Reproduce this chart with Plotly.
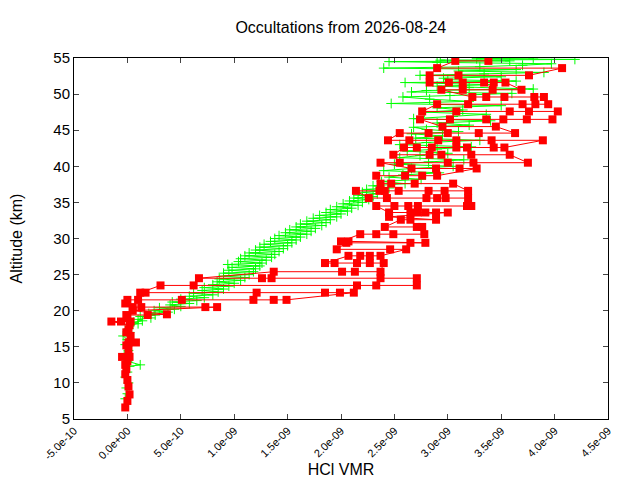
import plotly.graph_objects as go

title = "Occultations from 2026-08-24"

# HCl VMR in units of 1e-9, altitudes in km
green_alt_km = [
    7.8, 8.5, 9.3, 10.0, 10.8, 11.5, 12.3, 12.5, 13.0, 13.8, 14.5, 15.3, 16.0, 16.5, 17.0, 17.5,
    18.0, 18.2, 18.4, 18.6, 18.8, 19.0, 19.2, 19.4, 19.6, 19.8, 20.0, 20.2, 20.4, 20.6, 20.8,
    21.0, 21.2, 21.4, 21.6, 21.8, 22.0, 22.2, 22.4, 22.6, 22.8, 23.0, 23.2, 23.4, 23.6, 23.8,
    24.0, 24.2, 24.4, 24.6, 24.8, 25.0, 25.2, 25.4, 25.6, 25.8, 26.0, 26.2, 26.4, 26.6, 26.8,
    27.0, 27.2, 27.4, 27.6, 27.8, 28.0, 28.2, 28.4, 28.6, 28.8, 29.0, 29.2, 29.4, 29.6, 29.8,
    30.0, 30.2, 30.4, 30.6, 30.8, 31.0, 31.2, 31.4, 31.6, 31.8, 32.0, 32.2, 32.4, 32.6, 32.8,
    33.0, 33.2, 33.4, 33.6, 33.8, 34.0, 34.2, 34.4, 34.6, 34.8, 35.0, 35.2, 35.4, 35.6, 35.8,
    36.0, 36.2, 36.4, 36.6, 36.8, 37.0,
    37.3, 37.6, 37.9, 38.2, 38.5, 38.8, 39.1, 39.4, 39.7, 40.0, 40.3, 40.6, 40.9, 41.2, 41.5,
    41.8, 42.1, 42.4, 42.7, 43.0, 43.3, 43.6, 43.9, 44.2, 44.5, 44.8, 45.1, 45.4, 45.7, 46.0,
    46.3, 46.6, 46.9, 47.2, 47.5, 47.8, 48.1, 48.4, 48.7, 49.0, 49.3, 49.6, 49.8, 50.1, 50.3,
    50.5, 50.7, 50.9, 51.1, 51.3, 51.6, 51.8, 52.0, 52.2, 52.4, 52.6, 52.8, 53.0, 53.2, 53.4,
    53.6, 53.8, 54.0, 54.2, 54.4, 54.5, 54.6, 54.7, 54.8, 54.9, 55.0,
]
green_hcl = [
    -0.02, 0.0, -0.01, 0.01, -0.02, 0.0, 0.02, 0.12, 0.0, -0.03, 0.01, -0.02, 0.0, -0.04, 0.02, 0.01,
    0.02, 0.1, 0.06, 0.14, 0.1, 0.22, 0.12, 0.26, 0.2, 0.38, 0.25, 0.44, 0.3, 0.5, 0.4,
    0.58, 0.42, 0.65, 0.5, 0.72, 0.58, 0.8, 0.62, 0.85, 0.7, 0.9, 0.72, 0.95, 0.8, 1.0,
    0.84, 1.06, 0.86, 1.1, 0.9, 1.14, 0.9, 1.18, 0.95, 1.2, 0.98, 1.24, 0.94, 1.26, 1.04,
    1.3, 1.06, 1.35, 1.1, 1.38, 1.14, 1.42, 1.2, 1.46, 1.24, 1.5, 1.28, 1.54, 1.34, 1.58,
    1.38, 1.62, 1.42, 1.68, 1.48, 1.72, 1.52, 1.76, 1.58, 1.82, 1.62, 1.86, 1.68, 1.9, 1.74,
    1.96, 1.8, 2.0, 1.86, 2.06, 1.9, 2.1, 1.96, 2.16, 2.02, 2.2, 2.08, 2.26, 2.12, 2.3,
    2.16, 2.34, 2.2, 2.4, 2.24, 2.45,
    2.3, 2.6, 2.38, 2.75, 2.45, 2.58, 2.92, 2.4, 2.66, 3.05, 2.5, 2.82, 3.15, 2.55, 2.74,
    3.0, 2.62, 2.9, 3.22, 2.55, 2.8, 3.3, 2.7, 2.95, 2.66, 3.1, 2.8, 2.68, 3.2, 2.9,
    3.4, 2.68, 3.05, 3.36, 2.78, 3.14, 2.9, 3.5, 2.47, 3.2, 2.83, 2.58, 3.02, 3.6, 2.66,
    2.8, 3.8, 3.2, 2.9, 3.4, 2.6, 3.64, 3.0, 2.96, 3.5, 2.74, 3.34, 3.9, 3.1, 3.64,
    2.4, 3.3, 3.7, 3.97, 2.9, 2.45, 3.58, 2.93, 4.19, 3.27, 3.8,
]

red_level_km = [
    6.6, 7.5, 8.4, 9.5, 10.4, 11.2, 11.9, 12.5, 13.0, 13.6, 14.6, 15.2, 15.6, 16.5, 17.0, 17.4,
    18.0, 18.5, 19.0, 19.4, 19.5, 20.0, 20.5, 21.0, 21.5, 22.5, 23.5, 24.5, 25.4, 26.6, 27.6,
    28.5, 29.4, 29.6, 30.6, 31.6, 32.6, 33.0, 33.6, 34.5, 35.6, 36.6, 37.6, 38.7, 39.7, 40.5,
    41.6, 42.6, 43.6, 44.6, 45.5, 46.5, 47.6, 48.6, 49.6, 50.6, 51.6, 52.6, 53.6, 54.6,
]
red_hcl = [
    [-0.02], [0.0], [0.02], [0.01], [0.0], [-0.02], [-0.01], [-0.02], [0.0], [-0.05, 0.02],
    [0.01], [-0.01], [0.08, 0.01], [0.03], [-0.01], [0.01], [0.02], [-0.15, -0.06, 0.03],
    [0.0], [-0.01, 0.19], [0.37], [0.05], [0.84, 0.73, 0.13, 0.05], [-0.02],
    [0.0, 0.1, 0.51, 1.18, 1.37, 1.49],
    [2.12, 1.99, 1.85, 1.21, 0.17, 0.12],
    [0.31, 0.62, 2.15, 2.33, 2.71],
    [2.71, 2.37, 1.35, 1.26, 0.67],
    [1.37, 2.01, 2.13, 2.37],
    [2.4, 2.27, 2.15, 1.94, 1.85],
    [2.07, 2.18, 2.27, 2.37],
    [2.61, 2.46, 1.96],
    [2.05, 2.65, 2.79],
    [2.07, 2.0],
    [2.18, 2.33, 2.49, 2.78],
    [2.76, 2.71, 2.41],
    [2.56, 2.65, 2.89],
    [2.45],
    [3.0, 2.89, 2.79, 2.72, 2.65, 2.45],
    [2.33, 2.5, 2.63, 2.72, 3.18, 3.22],
    [3.19, 2.98, 2.9, 2.8, 2.43, 2.26],
    [2.14, 2.36, 2.41, 2.54, 2.82, 2.97, 3.19],
    [3.05, 2.69, 2.47, 2.37],
    [2.33, 2.6, 2.76, 2.9],
    [3.27, 3.11, 2.89, 2.66],
    [2.37, 2.55, 3.0, 3.24, 3.75],
    [3.58, 3.22, 2.94, 2.83, 2.49],
    [2.59, 2.71, 2.85, 3.08, 3.18, 3.43, 3.53],
    [3.89, 3.41, 3.08, 2.91, 2.64, 2.44],
    [2.55, 2.82, 3.0, 3.29, 3.63],
    [3.45, 2.95],
    [2.74, 3.02, 3.36, 3.52, 3.74, 3.98],
    [4.03, 3.76, 3.58, 3.08, 2.76],
    [2.9, 3.19, 3.7, 3.82, 3.94],
    [3.9, 3.81, 3.53, 3.36, 3.23],
    [2.94, 3.14, 3.42, 3.69],
    [3.54, 3.43, 3.34, 3.14, 3.01, 2.83],
    [2.83, 3.1, 3.76],
    [4.07, 2.9],
    [3.07, 3.38],
]

x_tick_vals = [-5e-10, 0.0, 5e-10, 1e-9, 1.5e-9, 2e-9, 2.5e-9, 3e-9, 3.5e-9, 4e-9, 4.5e-9]
x_tick_labels = ["-5.0e-10", "0.0e+00", "5.0e-10", "1.0e-09", "1.5e-09", "2.0e-09",
                 "2.5e-09", "3.0e-09", "3.5e-09", "4.0e-09", "4.5e-09"]

red_x, red_y = [], []
for alt, vals in zip(red_level_km, red_hcl):
    for v in vals:
        red_x.append(v * 1e-9)
        red_y.append(alt)

fig = go.Figure()
fig.add_trace(go.Scatter(
    x=[v * 1e-9 for v in green_hcl], y=green_alt_km,
    mode="lines+markers",
    line=dict(color="#00ff00", width=1),
    marker=dict(symbol="cross-thin", size=7, line=dict(color="#00ff00", width=1)),
))
fig.add_trace(go.Scatter(
    x=red_x, y=red_y,
    mode="lines+markers",
    line=dict(color="#ff0000", width=1),
    marker=dict(symbol="square", size=8, color="#ff0000"),
))

# the page adds an 8px body margin, so margins are shifted to compensate
fig.update_layout(
    width=640, height=480,
    margin=dict(l=66, r=40, t=50, b=69),
    paper_bgcolor="white", plot_bgcolor="white",
    showlegend=False,
    font=dict(family="Liberation Sans", size=15, color="black"),
    title=dict(text=title, x=0.52, xanchor="center", y=0.96, yanchor="middle",
               font=dict(size=16)),
)
fig.update_xaxes(
    range=[-5e-10, 4.5e-9], tickvals=x_tick_vals, ticktext=x_tick_labels,
    tickangle=-45, tickfont=dict(size=11), automargin=False,
    ticks="inside", ticklen=5, showline=True, linecolor="black", linewidth=1,
    mirror="ticks", showgrid=False, zeroline=False,
    title=dict(text="HCl VMR", font=dict(size=16), standoff=2),
)
fig.update_yaxes(
    range=[5, 55], dtick=5, tickfont=dict(size=15), automargin=False,
    ticks="inside", ticklen=5, showline=True, linecolor="black", linewidth=1,
    mirror="ticks", showgrid=False, zeroline=False,
    title=dict(text="Altitude (km)", font=dict(size=16), standoff=33),
)

fig.write_html("out.html")
